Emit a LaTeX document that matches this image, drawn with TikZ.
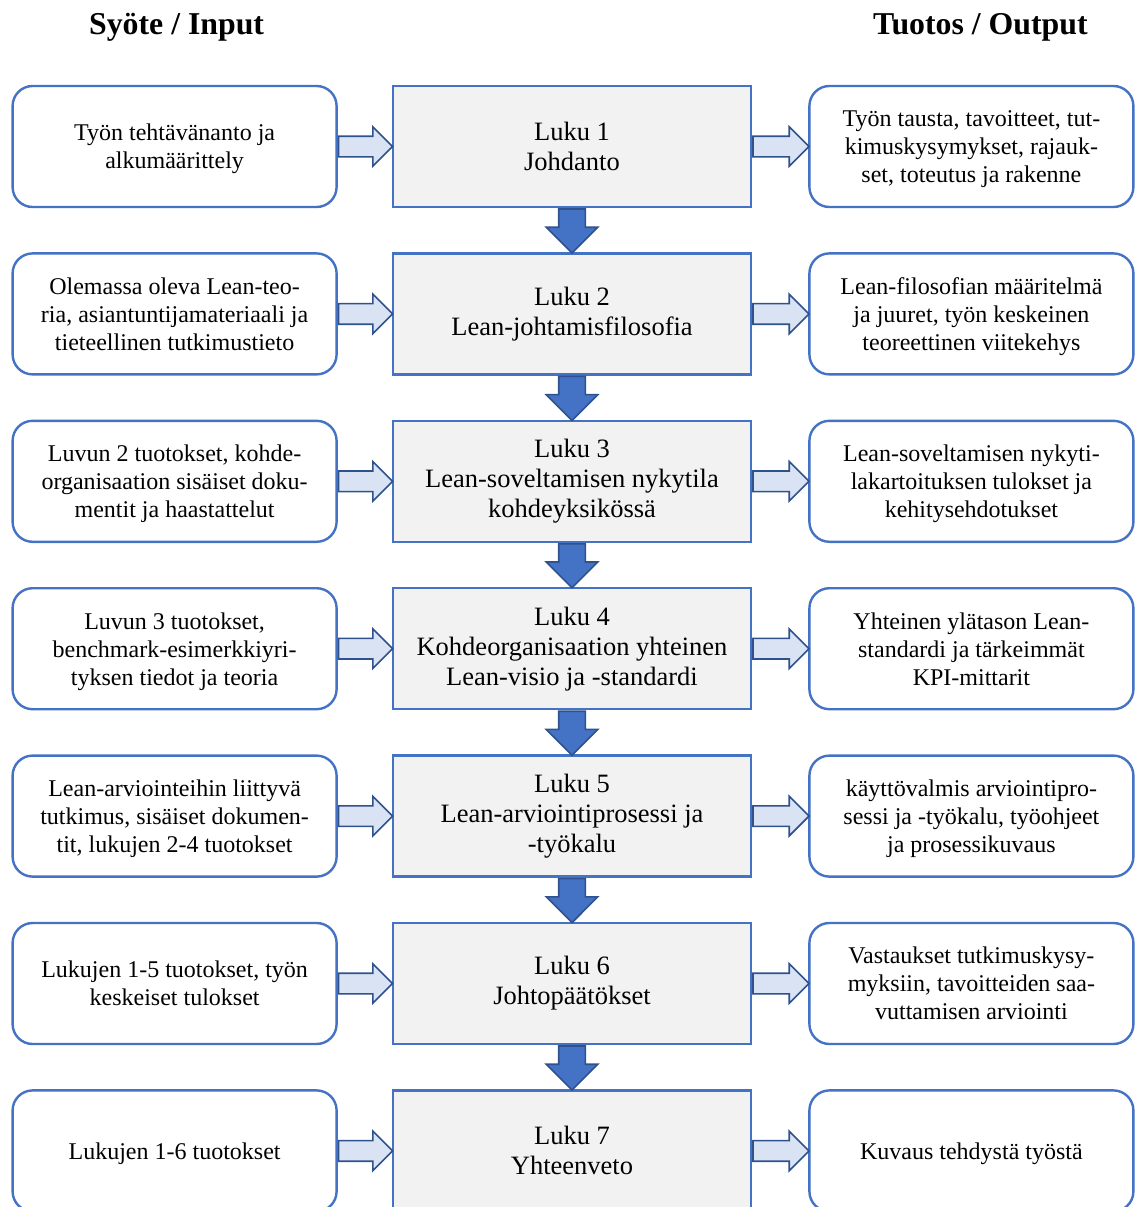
\documentclass[tikz,border=0pt]{standalone}
\usepackage{fontspec}
\setmainfont{Liberation Serif}
\usepackage{tikz}
\usetikzlibrary{positioning,shapes.arrows}
\definecolor{chblue}{HTML}{4472C4}
\definecolor{chdark}{HTML}{2F528F}
\definecolor{chgray}{HTML}{F2F2F2}
\definecolor{chlight}{HTML}{DAE3F3}

\begin{document}
\begin{tikzpicture}[
  x=1pt, y=1pt,
  lbox/.style  = {draw=chblue, fill=white, rounded corners=20pt,
                  line width=2.4pt, align=center, inner sep=0pt,
                  minimum width=324pt, minimum height=121pt,
                  font=\fontsize{24}{28}\selectfont, text depth=-2pt},
  cbox/.style  = {draw=chblue, fill=chgray, line width=2.4pt,
                  align=center, inner sep=0pt,
                  minimum width=358pt, minimum height=121pt,
                  font=\fontsize{26.5}{30}\selectfont},
  colhead/.style = {font=\bfseries\fontsize{31.8}{36}\selectfont, inner sep=0pt},
  harr/.style  = {single arrow, draw=chdark, fill=chlight, line width=1.6pt,
                  inner xsep=0pt, inner ysep=9.5pt,
                  single arrow head extend=9.5pt, anchor=tail},
  darr/.style  = {single arrow, draw=chdark, fill=chblue, line width=1.6pt,
                  inner xsep=12.5pt, inner ysep=0pt,
                  single arrow head extend=12.5pt, shape border rotate=270,
                  anchor=tail, minimum height=44pt},
]
\useasboundingbox (0,0) rectangle (1135,-1207);

% chapter column
\node[cbox] (luku1) at (572,-146.5) {Luku 1\\Johdanto};
\node[cbox, below=44pt of luku1] (luku2) {Luku 2\\Lean-johtamisfilosofia};
\node[cbox, below=44pt of luku2] (luku3)
    {Luku 3\\Lean-soveltamisen nykytila\\kohdeyksikössä};
\node[cbox, below=44pt of luku3] (luku4)
    {Luku 4\\Kohdeorganisaation yhteinen\\Lean-visio ja -standardi};
\node[cbox, below=44pt of luku4] (luku5)
    {Luku 5\\Lean-arviointiprosessi ja\\-työkalu};
\node[cbox, below=44pt of luku5] (luku6) {Luku 6\\Johtopäätökset};
\node[cbox, below=44pt of luku6] (luku7) {Luku 7\\Yhteenveto};

% inputs
\node[lbox, left=54pt of luku1] (in1) {Työn tehtävänanto ja\\alkumäärittely};
\node[lbox, left=54pt of luku2] (in2)
    {Olemassa oleva Lean-teo-\\ria, asiantuntijamateriaali ja\\tieteellinen tutkimustieto};
\node[lbox, left=54pt of luku3] (in3)
    {Luvun 2 tuotokset, kohde-\\organisaation sisäiset doku-\\mentit ja haastattelut};
\node[lbox, left=54pt of luku4] (in4)
    {Luvun 3 tuotokset,\\benchmark-esimerkkiyri-\\tyksen tiedot ja teoria};
\node[lbox, left=54pt of luku5] (in5)
    {Lean-arviointeihin liittyvä\\tutkimus, sisäiset dokumen-\\tit, lukujen 2-4 tuotokset};
\node[lbox, left=54pt of luku6] (in6) {Lukujen 1-5 tuotokset, työn\\keskeiset tulokset};
\node[lbox, left=54pt of luku7] (in7) {Lukujen 1-6 tuotokset};

% outputs
\node[lbox, right=56pt of luku1] (out1)
    {Työn tausta, tavoitteet, tut-\\kimuskysymykset, rajauk-\\set, toteutus ja rakenne};
\node[lbox, right=56pt of luku2] (out2)
    {Lean-filosofian määritelmä\\ja juuret, työn keskeinen\\teoreettinen viitekehys};
\node[lbox, right=56pt of luku3] (out3)
    {Lean-soveltamisen nykyti-\\lakartoituksen tulokset ja\\kehitysehdotukset};
\node[lbox, right=56pt of luku4] (out4)
    {Yhteinen ylätason Lean-\\standardi ja tärkeimmät\\KPI-mittarit};
\node[lbox, right=56pt of luku5] (out5)
    {käyttövalmis arviointipro-\\sessi ja -työkalu, työohjeet\\ja prosessikuvaus};
\node[lbox, right=56pt of luku6] (out6)
    {Vastaukset tutkimuskysy-\\myksiin, tavoitteiden saa-\\vuttamisen arviointi};
\node[lbox, right=56pt of luku7] (out7) {Kuvaus tehdystä työstä};

% column headers
\node[colhead, above=43pt of in1, xshift=2pt] (hin) {Syöte / Input};
\node[colhead, above=43pt of out1, xshift=9pt] (hout) {Tuotos / Output};

% block arrows
\node[harr, minimum height=54pt] at (in1.east) {};
\node[harr, minimum height=54pt] at (in2.east) {};
\node[harr, minimum height=54pt] at (in3.east) {};
\node[harr, minimum height=54pt] at (in4.east) {};
\node[harr, minimum height=54pt] at (in5.east) {};
\node[harr, minimum height=54pt] at (in6.east) {};
\node[harr, minimum height=54pt] at (in7.east) {};
\node[harr, minimum height=56pt] at (luku1.east) {};
\node[harr, minimum height=56pt] at (luku2.east) {};
\node[harr, minimum height=56pt] at (luku3.east) {};
\node[harr, minimum height=56pt] at (luku4.east) {};
\node[harr, minimum height=56pt] at (luku5.east) {};
\node[harr, minimum height=56pt] at (luku6.east) {};
\node[harr, minimum height=56pt] at (luku7.east) {};
\node[darr] at (luku1.south) {};
\node[darr] at (luku2.south) {};
\node[darr] at (luku3.south) {};
\node[darr] at (luku4.south) {};
\node[darr] at (luku5.south) {};
\node[darr] at (luku6.south) {};
\end{tikzpicture}
\end{document}
